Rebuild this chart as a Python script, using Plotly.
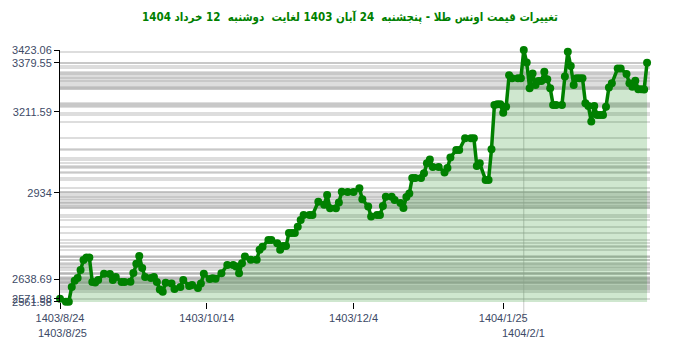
import pandas as pd
import plotly.graph_objects as go

# ---- data -------------------------------------------------------------
start_date = "2024-11-14"  # 1403/8/24
day_offsets = [0, 2, 3, 4, 5, 6, 7, 8, 9, 10, 11, 12, 13, 15, 17, 18, 19, 21, 22, 24,
               25, 26, 27, 28, 29, 31, 32, 33, 34, 35, 36, 38, 39, 41, 42, 44, 45, 47, 48, 49,
               51, 52, 53, 55, 57, 59, 60, 61, 62, 63, 65, 67, 68, 69, 71, 72, 74, 75, 76, 77,
               78, 79, 80, 81, 82, 83, 85, 86, 88, 90, 91, 92, 94, 95, 96, 98, 100, 102, 103, 105,
               106, 108, 109, 110, 111, 113, 114, 116, 117, 118, 119, 120, 121, 123, 124, 125, 126, 127, 129, 131,
               132, 133, 135, 136, 138, 140, 141, 142, 143, 145, 146, 147, 148, 149, 150, 151, 152, 153, 154, 156,
               157, 158, 159, 160, 161, 162, 163, 164, 165, 166, 167, 168, 169, 171, 172, 173, 174, 175, 176, 177,
               178, 179, 180, 181, 182, 183, 184, 185, 186, 187, 188, 190, 191, 193, 194, 195, 196, 197, 198, 199,
               200]
prices = [2571.98, 2561.58, 2561.58, 2612, 2633, 2643, 2670, 2704, 2713, 2713, 2629, 2627, 2636, 2657, 2656, 2636, 2646, 2629, 2629, 2630,
          2660, 2691, 2718, 2677, 2646, 2643, 2646, 2629, 2603, 2596, 2626, 2624, 2605, 2612, 2636, 2615, 2619, 2608, 2624, 2657,
          2639, 2642, 2640, 2659, 2687, 2687, 2682, 2659, 2693, 2716, 2705, 2705, 2739, 2750, 2773, 2773, 2762, 2739, 2752, 2752,
          2797, 2797, 2797, 2818, 2841, 2858, 2858, 2858, 2904, 2893, 2927, 2881, 2881, 2901, 2938, 2937, 2937, 2950, 2912, 2887,
          2853, 2858, 2858, 2889, 2921, 2921, 2910, 2899, 2882, 2920, 2932, 2985, 2985, 2985, 3001, 3035, 3048, 3023, 3023, 3004,
          3019, 3055, 3081, 3081, 3121, 3121, 3121, 3026, 3035, 2978, 2978, 3083, 3235, 3237, 3237, 3208, 3229, 3337, 3326, 3326,
          3326, 3423.06, 3380, 3292, 3343, 3303, 3317, 3317, 3349, 3323, 3292, 3235, 3235, 3235, 3332, 3417, 3368, 3303, 3326, 3326,
          3326, 3241, 3231, 3178, 3231, 3201, 3201, 3201, 3229, 3295, 3309, 3360, 3360, 3341, 3309, 3297, 3318, 3289, 3289, 3288,
          3379.55]

y_tick_values = [3423.06, 3379.55, 3211.59, 2934, 2638.69, 2571.98, 2561.58]
y_tick_labels = ["3423.06", "3379.55", "3211.59", "2934", "2638.69", "2571.98", "2561.58"]

x_tick_dates = ["2024-11-14", "2025-01-03", "2025-02-22", "2025-04-14"]
x_tick_labels = ["1403/8/24", "1403/10/14", "1403/12/4", "1404/1/25"]
x_row2_dates = ["2024-11-15", "2025-04-21"]
x_row2_labels = ["1403/8/25", "1404/2/1"]
marker_line_date = "2025-04-21"

title_text = "تغییرات قیمت اونس طلا - پنجشنبه  24 آبان 1403 لغایت  دوشنبه  12 خرداد 1404"

# ---- figure -----------------------------------------------------------
base = pd.Timestamp(start_date)
dates = [base + pd.Timedelta(days=d) for d in day_offsets]
x_end = base + pd.Timedelta(days=201)

y_range = [2560.5, 3423.06]
label_font = dict(family="Arial, Liberation Sans, sans-serif", size=11, color="#3d4a66")

fig = go.Figure()
fig.add_trace(go.Scatter(
    x=dates, y=prices, mode="lines+markers",
    line=dict(color="#008000", width=3.5),
    marker=dict(color="#008000", size=8),
    fill="tozeroy", fillcolor="rgba(0,128,0,0.19)",
    cliponaxis=False, showlegend=False, hoverinfo="x+y",
))
fig.add_trace(go.Scatter(x=[], y=[], yaxis="y2", showlegend=False))

fig.add_shape(type="line", xref="x", yref="paper",
              x0=marker_line_date, x1=marker_line_date, y0=-0.08, y1=1,
              line=dict(color="#cccccc", width=1), layer="below")

for d, t in zip(x_row2_dates, x_row2_labels):
    fig.add_annotation(x=d, y=-0.123, xref="x", yref="paper", text=t,
                       showarrow=False, font=label_font, yanchor="middle", xanchor="center")

fig.update_layout(
    width=700, height=352,
    margin=dict(l=50, r=50, t=50, b=50),
    paper_bgcolor="white", plot_bgcolor="white",
    title=dict(text="<b>" + title_text + "</b>", x=0.5, xanchor="center",
               y=0.952, yanchor="middle",
               font=dict(family="DejaVu Sans Condensed, Tahoma, DejaVu Sans, sans-serif",
                         size=11.5, color="#008000")),
    xaxis=dict(type="date", range=[base, x_end],
               tickvals=x_tick_dates, ticktext=x_tick_labels,
               ticks="outside", ticklen=6, tickcolor="black", tickwidth=1,
               showgrid=False, showline=False, zeroline=False,
               tickfont=label_font),
    yaxis=dict(range=y_range, tickvals=prices, showticklabels=False, ticks="",
               showgrid=True, gridcolor="rgba(170,170,170,0.4)", gridwidth=2,
               zeroline=False, showline=False),
    yaxis2=dict(range=y_range, overlaying="y", side="left", anchor="x",
                tickvals=y_tick_values, ticktext=y_tick_labels,
                ticks="outside", ticklen=5, tickcolor="black",
                showline=True, linecolor="black", linewidth=1,
                showgrid=False, zeroline=False, tickfont=label_font),
)

fig.write_html("out.html")
